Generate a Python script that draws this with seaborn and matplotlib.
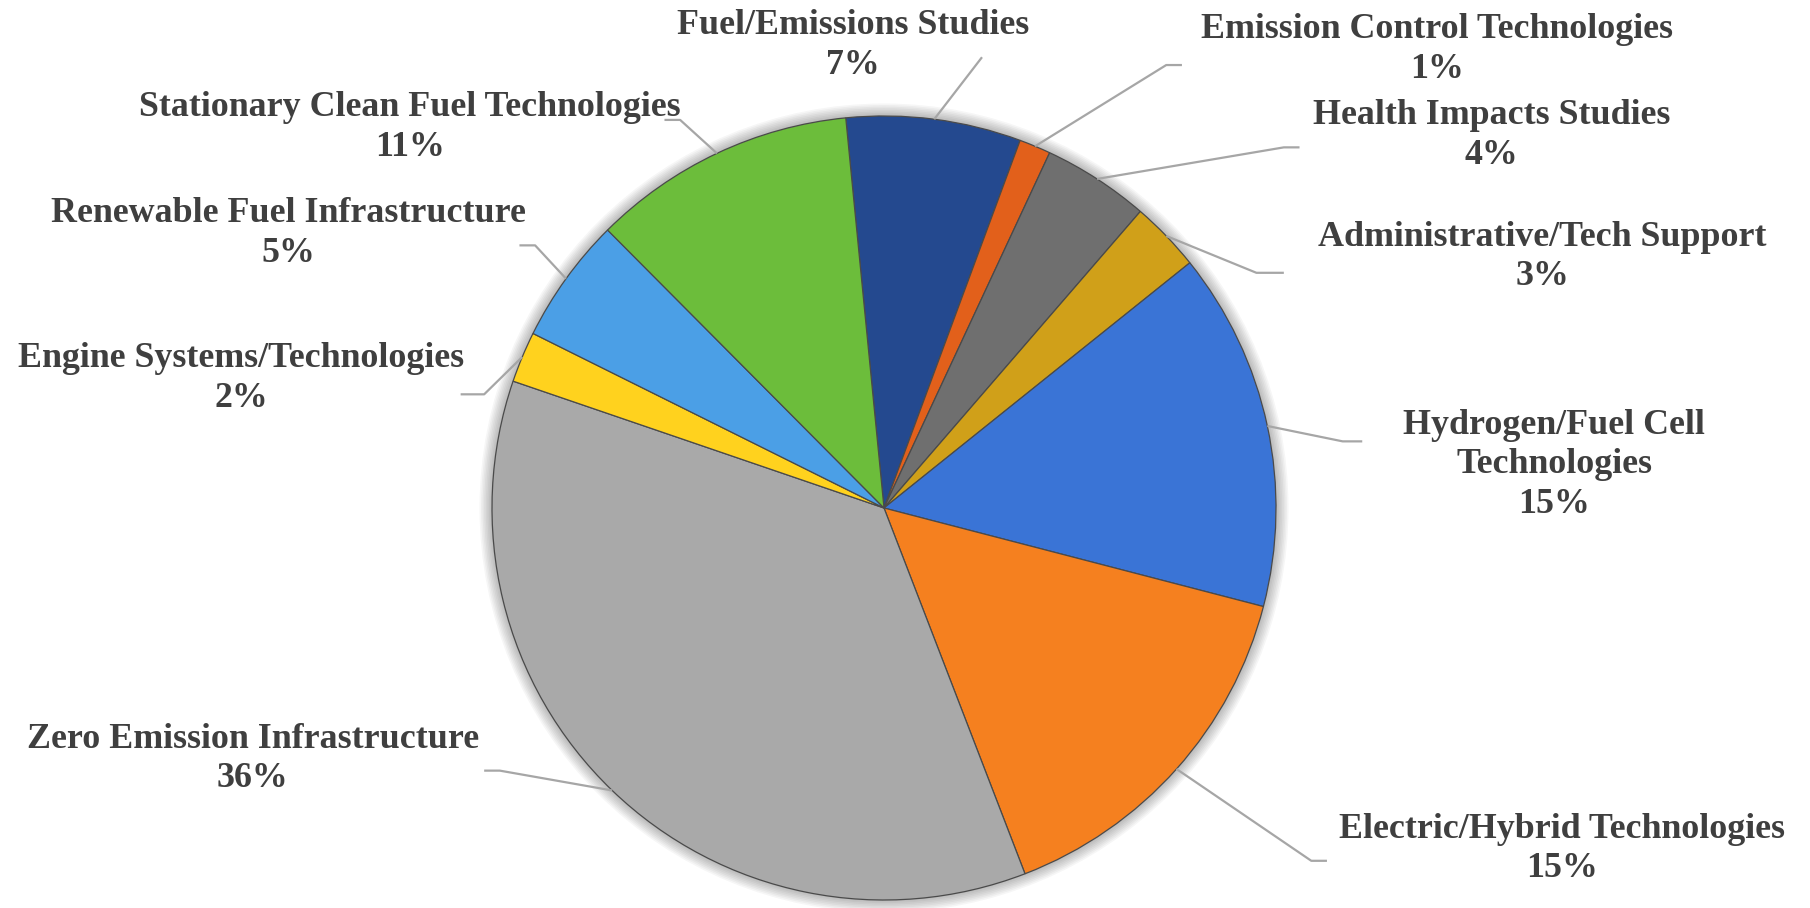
#!/usr/bin/env python3
"""Funding share by program area - pie chart with leader-line labels."""

import numpy as np
import matplotlib
matplotlib.use("Agg")
import matplotlib.pyplot as plt
from matplotlib.patches import Circle
import seaborn as sns

# Data (share of total, %), clockwise from the top
categories = [
    "Fuel/Emissions Studies",
    "Emission Control Technologies",
    "Health Impacts Studies",
    "Administrative/Tech Support",
    "Hydrogen/Fuel Cell\nTechnologies",
    "Electric/Hybrid Technologies",
    "Zero Emission Infrastructure",
    "Engine Systems/Technologies",
    "Renewable Fuel Infrastructure",
    "Stationary Clean Fuel Technologies",
]
shares = [7.2, 1.3, 4.4, 2.9, 14.8, 15.1, 36.1, 2.1, 5.2, 10.9]

colors = ["#24498f", "#e2601b", "#6f6f6f", "#d0a019", "#3a74d6",
          "#f5801f", "#a9a9a9", "#ffd21e", "#4b9fe6", "#6cbd3b"]

# Label layout in pie-radius units: text centre, leader elbow, leader end
label_xy = [(-0.08, 1.18), (1.41, 1.17), (1.55, 0.95), (1.68, 0.64), (1.71, 0.11),
            (1.73, -0.87), (-1.61, -0.64), (-1.64, 0.33), (-1.52, 0.70), (-1.21, 0.97)]
elbow_xy = [(0.25, 1.15), (0.72, 1.13), (1.02, 0.92), (0.95, 0.60), (1.17, 0.17),
            (1.09, -0.90), (-0.98, -0.67), (-1.02, 0.29), (-0.89, 0.67), (-0.52, 0.99)]
tick_end_x = [0.25, 0.76, 1.06, 1.02, 1.22, 1.13, -1.02, -1.08, -0.93, -0.56]

sns.set_theme(style="white")
plt.rcParams["font.family"] = ["Liberation Serif", "DejaVu Serif"]

fig = plt.figure(figsize=(18.1, 9.08), dpi=100)
ax = fig.add_axes([0, 0, 1, 1])

# soft glow behind the pie
for k in range(8):
    ax.add_patch(Circle((0, 0), 1.0 + 0.004 * (k + 1), color="black",
                        alpha=0.035, lw=0, zorder=0))

start = 95.6
wedges, _ = ax.pie(shares, colors=colors, startangle=start, counterclock=False,
                   radius=1.0,
                   wedgeprops=dict(edgecolor="#4a4a4a", linewidth=0.9))

total = sum(shares)
cum = 0.0
for i, (name, val) in enumerate(zip(categories, shares)):
    mid = start - 360.0 * (cum + val / 2) / total
    cum += val
    sx, sy = np.cos(np.radians(mid)), np.sin(np.radians(mid))
    ex, ey = elbow_xy[i]
    ax.plot([sx, ex, tick_end_x[i]], [sy, ey, ey], color="#a6a6a6", lw=1.6,
            solid_capstyle="butt", zorder=1)
    ax.text(label_xy[i][0], label_xy[i][1], f"{name}\n{round(val)}%",
            ha="center", va="center", fontsize=25.8, fontweight="bold",
            color="#3f3f3f", linespacing=1.27)

ax.set_aspect("auto")
ax.set_xlim(-884 / 392, 926 / 392)
ax.set_ylim(-400 / 392, 508 / 392)
ax.axis("off")

fig.savefig("out.png", dpi=100, facecolor="white")
